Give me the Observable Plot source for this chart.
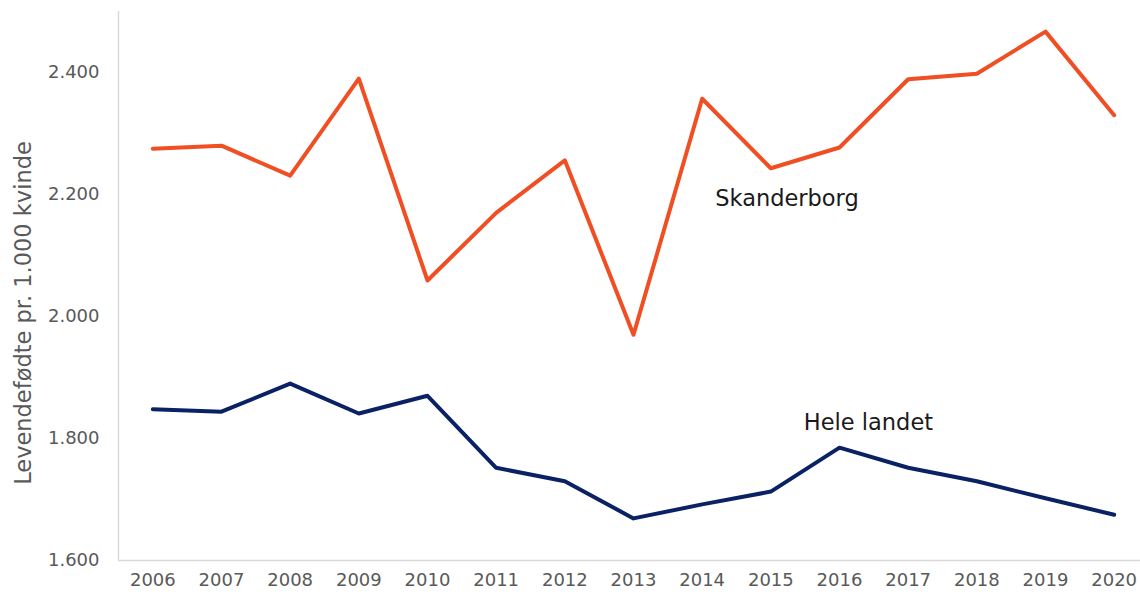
<!DOCTYPE html>
<html>
<head>
<meta charset="utf-8">
<script src="https://cdn.jsdelivr.net/npm/d3@7"></script>
<script src="https://cdn.jsdelivr.net/npm/@observablehq/plot@0.6"></script>
<style>
  html, body { margin: 0; padding: 0; background: #fff; }
  #chart svg { display: block; }
</style>
</head>
<body>
<div id="chart"></div>
<script>
const years = [2006, 2007, 2008, 2009, 2010, 2011, 2012, 2013, 2014, 2015, 2016, 2017, 2018, 2019, 2020];
const skanderborg = [2275, 2280, 2231, 2390, 2059, 2170, 2256, 1970, 2357, 2243, 2277, 2389, 2398, 2467, 2330];
const heleLandet = [1848, 1844, 1890, 1841, 1870, 1752, 1730, 1669, 1692, 1713, 1785, 1752, 1730, 1702, 1675];
const yTicks = [1600, 1800, 2000, 2200, 2400];
const seriesNames = ["Skanderborg", "Hele landet"];
const seriesColors = ["#f04e23", "#0a2264"];
const labelYears = [2014.19, 2015.48];
const labelValues = [2193, 1826];
const yTitle = "Levendefødte pr. 1.000 kvinde";

const rows = [
  ...years.map((y, i) => ({year: y, value: skanderborg[i], series: seriesNames[0]})),
  ...years.map((y, i) => ({year: y, value: heleLandet[i], series: seriesNames[1]}))
];
const labels = seriesNames.map((s, i) => ({series: s, year: labelYears[i], value: labelValues[i]}));

const locale = d3.formatLocale({decimal: ",", thousands: ".", grouping: [3], currency: ["", " kr"]});
const fmt = locale.format(",.0f");

const xMin = years[0] - 0.5, xMax = years[years.length - 1] + 0.5;
const yMin = 1600, yMax = 2500;

const chart = Plot.plot({
  width: 1140,
  height: 595,
  marginLeft: 118,
  marginRight: 0,
  marginTop: 11,
  marginBottom: 35,
  style: {fontFamily: "DejaVu Sans, Verdana, sans-serif", fontSize: "18px", color: "#595959", background: "#fff"},
  x: {domain: [xMin, xMax], range: [118, 1148], ticks: years, tickFormat: d => String(d), tickSize: 0, tickPadding: 13, label: null},
  y: {domain: [yMin, yMax], ticks: yTicks, tickFormat: fmt, tickSize: 0, tickPadding: 19, label: null},
  color: {domain: seriesNames, range: seriesColors},
  marks: [
    Plot.ruleY([yMin], {stroke: "#d9d9d9", strokeWidth: 1.5}),
    Plot.ruleX([xMin], {y1: yMin, y2: yMax, stroke: "#d9d9d9", strokeWidth: 1.5}),
    Plot.line(rows, {x: "year", y: "value", z: "series", stroke: "series", strokeWidth: 4, strokeLinejoin: "round", strokeLinecap: "round"}),
    Plot.text(labels, {x: "year", y: "value", text: "series", textAnchor: "start", fill: "#1a1a1a", fontSize: 22.5}),
    Plot.text([yTitle], {frameAnchor: "left", textAnchor: "middle", rotate: -90, dx: -95, dy: 27, fontSize: 22.5, fill: "#595959"})
  ]
});
document.getElementById("chart").appendChild(chart);
</script>
</body>
</html>
